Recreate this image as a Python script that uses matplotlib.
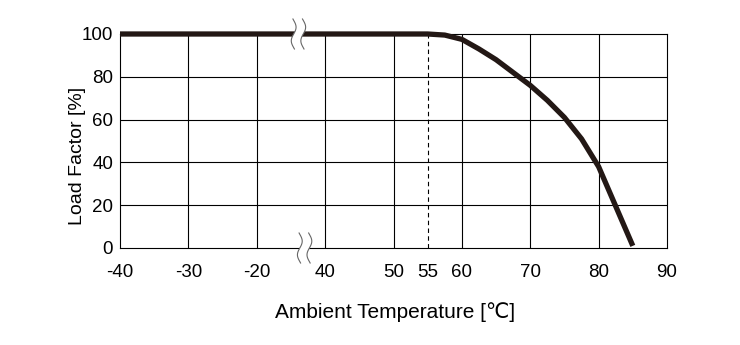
import matplotlib
matplotlib.use('Agg')
import matplotlib.pyplot as plt
import numpy as np
from matplotlib.patches import Polygon

plt.rcParams['font.family'] = ['Liberation Sans', 'DejaVu Sans']

# derating curve
temps = [-40, 55, 57.5, 60, 62.5, 65, 67.5, 70, 72.5, 75, 77.5, 80, 85]
load = [100, 100, 99.5, 97.5, 93, 88, 82, 76, 69, 61, 51, 38, 1]
xticks = [-40, -30, -20, 40, 50, 55, 60, 70, 80, 90]
yticks = [0, 20, 40, 60, 80, 100]
knee = 55


def xpos(t):
    # broken axis: -40..-20 then 40..90, one grid column per 10 degC
    t = np.asarray(t, dtype=float)
    return np.where(t <= -20, (t + 40) / 10.0, 3 + (t - 40) / 10.0)


def break_mark(ax, x0, yc):
    s = np.linspace(-1, 1, 40)
    ys = yc + s * 15 / 214
    wig = 0.035 * np.sin(s * np.pi * 1.1)
    tr = ax.get_xaxis_transform()
    left = x0 + wig
    right = x0 + 0.14 + wig
    verts = list(zip(left, ys)) + list(zip(right[::-1], ys[::-1]))
    ax.add_patch(Polygon(verts, closed=True, facecolor='white', edgecolor='none',
                         transform=tr, clip_on=False, zorder=5))
    for xs in (left, right):
        ax.plot(xs, ys, color='#666666', lw=0.8, transform=tr, clip_on=False, zorder=6)


fig = plt.figure(figsize=(7.4, 3.45), dpi=100)
ax = fig.add_axes([120 / 740, 97 / 345, 547 / 740, 214 / 345])

ax.set_xlim(0, 8)
ax.set_ylim(0, 100)
ax.set_xticks(xpos(xticks))
ax.set_xticklabels([str(t) for t in xticks])
ax.set_yticks(yticks)
ax.tick_params(length=0, labelsize=13.5)
ax.tick_params(axis='x', pad=11.5)
ax.tick_params(axis='y', pad=5)

for v in range(1, 8):
    ax.axvline(v, color='black', lw=0.8, zorder=1)
for v in yticks[1:-1]:
    ax.axhline(v, color='black', lw=0.8, zorder=1)
for sp in ax.spines.values():
    sp.set_linewidth(0.8)
    sp.set_color('black')

ax.plot(xpos([knee, knee]), [0, 100], color='black', lw=0.8, ls=(0, (4, 3)), zorder=2)
ax.plot(xpos(temps), load, color='#231815', lw=3.8, solid_capstyle='butt',
        solid_joinstyle='round', clip_on=False, zorder=4)

break_mark(ax, 2.54, 1.0)
break_mark(ax, 2.63, 0.0)

ax.set_ylabel('Load Factor [%]', fontsize=14)
ax.yaxis.set_label_coords(-0.063, 0.43)
ax.set_xlabel('Ambient Temperature [℃]', fontsize=15)
ax.xaxis.set_label_coords(0.503, -0.255)

fig.savefig('out.png', dpi=100)
